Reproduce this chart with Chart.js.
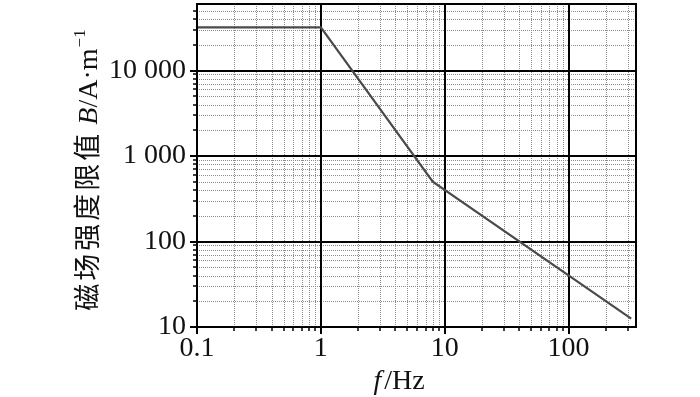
<!DOCTYPE html>
<html><head><meta charset="utf-8">
<script src="https://cdn.jsdelivr.net/npm/chart.js@4/dist/chart.umd.min.js"></script>
<style>html,body{margin:0;padding:0;background:#fff;}#wrap{width:700px;height:397px;position:relative;}</style>
</head><body><div id="wrap"><canvas id="c"></canvas></div>
<script>
// ---- data ----
const frequencies = [0.1, 1, 8, 320];          // Hz
const fieldLimits = [32000, 32000, 500, 12.5];  // A/m
const xLabelValues = [0.1, 1, 10, 100];
const xLabelTexts = ['0.1', '1', '10', '100'];
const yLabelValues = [10, 100, 1000, 10000];
const yLabelTexts = ['10', '100', '1 000', '10 000'];
const yTitleCJK = '磁场强度限值';
const yTitleVar = 'B';
const yTitleUnit = '/A·m';
const yTitleExp = '−1';
const xTitleVar = 'f';
const xTitleUnit = '/Hz';

const SERIF = '"Liberation Serif", "Times New Roman", serif';

function labelFor(values, texts, v) {
  const i = values.findIndex(t => Math.abs(t - v) / t < 1e-6);
  return i >= 0 ? texts[i] : '';
}
function isNice(v) {
  const e = Math.floor(Math.log10(v) + 1e-9);
  const m = v / Math.pow(10, e);
  return Math.abs(m - Math.round(m)) < 1e-6;
}
function isDecade(v) {
  const l = Math.log10(v);
  return Math.abs(l - Math.round(l)) < 1e-6;
}

const gridPlugin = {
  id: 'logGrid',
  beforeDatasetsDraw(chart) {
    const {ctx, chartArea: a, scales: {x, y}} = chart;
    const line = (x1, y1, x2, y2) => { ctx.beginPath(); ctx.moveTo(x1, y1); ctx.lineTo(x2, y2); ctx.stroke(); };
    ctx.save();
    const xs = x.ticks.map(t => t.value).filter(isNice);
    const ys = y.ticks.map(t => t.value).filter(isNice);
    // minor dotted grid
    ctx.setLineDash([1, 1]);
    ctx.lineWidth = 1;
    ctx.strokeStyle = '#8c8c8c';
    xs.filter(v => !isDecade(v)).forEach(v => {
      const p = Math.round(x.getPixelForValue(v)) + 0.5;
      if (p > a.left + 1 && p < a.right - 1) line(p, a.top, p, a.bottom);
    });
    ys.filter(v => !isDecade(v)).forEach(v => {
      const p = Math.round(y.getPixelForValue(v)) + 0.5;
      if (p > a.top + 1 && p < a.bottom - 1) line(a.left, p, a.right, p);
    });
    // major solid grid
    ctx.setLineDash([]);
    ctx.lineWidth = 2;
    ctx.strokeStyle = '#000';
    xs.filter(isDecade).forEach(v => {
      const p = Math.round(x.getPixelForValue(v));
      if (p > a.left + 1 && p < a.right - 1) line(p, a.top, p, a.bottom);
    });
    ys.filter(isDecade).forEach(v => {
      const p = Math.round(y.getPixelForValue(v));
      if (p > a.top + 1 && p < a.bottom - 1) line(a.left, p, a.right, p);
    });
    // outside tick marks
    xs.forEach(v => {
      const p = Math.round(x.getPixelForValue(v));
      if (p < a.left - 1 || p > a.right - 2) return;
      ctx.lineWidth = isDecade(v) ? 2 : 1.5;
      line(p, a.bottom, p, a.bottom + (isDecade(v) ? 7 : 4));
    });
    ys.forEach(v => {
      const p = Math.round(y.getPixelForValue(v));
      if (p < a.top + 2 || p > a.bottom + 1) return;
      ctx.lineWidth = isDecade(v) ? 2 : 1.5;
      line(a.left, p, a.left - (isDecade(v) ? 7 : 4), p);
    });
    ctx.restore();
  },
  afterDatasetsDraw(chart) {
    const {ctx, chartArea: a} = chart;
    ctx.save();
    ctx.lineWidth = 2;
    ctx.strokeStyle = '#000';
    ctx.strokeRect(a.left, a.top, a.right - a.left, a.bottom - a.top);
    ctx.restore();
  },
  afterDraw(chart) {
    const {ctx} = chart;
    ctx.save();
    ctx.fillStyle = '#111';
    // y title (rotated)
    const cjkFont = '27px "Noto Sans CJK SC", sans-serif';
    const varFont = 'italic 28px ' + SERIF;
    const unitFont = '28px ' + SERIF;
    const expFont = '17px ' + SERIF;
    const cjkSpace = 3;
    ctx.font = cjkFont;
    const cjkChars = Array.from(yTitleCJK);
    const cw = cjkChars.map(ch => ctx.measureText(ch).width);
    const w1 = cw.reduce((s, w) => s + w, 0) + cjkSpace * (cjkChars.length - 1);
    const gap = 9;
    ctx.font = varFont; const w2 = ctx.measureText(yTitleVar).width;
    ctx.font = unitFont; const w3 = ctx.measureText(yTitleUnit).width;
    ctx.font = expFont; const w4 = ctx.measureText(yTitleExp).width;
    const total = w1 + gap + w2 + w3 + w4 + 1;
    ctx.translate(87, 170);
    ctx.rotate(-Math.PI / 2);
    ctx.textBaseline = 'alphabetic';
    ctx.textAlign = 'left';
    let cx = -total / 2;
    ctx.font = cjkFont;
    cjkChars.forEach((ch, i) => { ctx.fillText(ch, cx, 10); cx += cw[i] + cjkSpace; });
    cx += gap - cjkSpace;
    ctx.font = varFont; ctx.fillText(yTitleVar, cx, 10); cx += w2;
    ctx.font = unitFont; ctx.fillText(yTitleUnit, cx, 10); cx += w3 + 1;
    ctx.font = expFont; ctx.fillText(yTitleExp, cx, -2);
    ctx.restore();
    // x title
    ctx.save();
    ctx.fillStyle = '#111';
    ctx.textBaseline = 'alphabetic';
    ctx.font = 'italic 28px ' + SERIF; const f1 = ctx.measureText(xTitleVar).width;
    ctx.font = '28px ' + SERIF; const f2 = ctx.measureText(xTitleUnit).width;
    let sx = 399 - (f1 + f2 + 3) / 2;
    ctx.font = 'italic 28px ' + SERIF; ctx.fillText(xTitleVar, sx, 389);
    ctx.font = '28px ' + SERIF; ctx.fillText(xTitleUnit, sx + f1 + 3, 389);
    ctx.restore();
  }
};

function zeroPad(s) { s.paddingTop = 0; s.paddingBottom = 0; s.paddingLeft = 0; s.paddingRight = 0; }

new Chart(document.getElementById('c'), {
  type: 'line',
  data: {
    datasets: [{
      data: frequencies.map((f, i) => ({x: f, y: fieldLimits[i]})),
      borderColor: '#4a4a4a',
      borderWidth: 2.2,
      pointRadius: 0,
      fill: false,
      tension: 0
    }]
  },
  options: {
    responsive: true,
    maintainAspectRatio: false,
    animation: false,
    layout: {padding: {top: 4, right: 64, left: 0, bottom: 0}},
    plugins: {legend: {display: false}, tooltip: {enabled: false}},
    scales: {
      x: {
        type: 'logarithmic',
        min: 0.1, max: 350,
        grid: {display: false, drawTicks: false},
        border: {display: false},
        ticks: {
          autoSkip: false, maxRotation: 0, padding: 8,
          color: '#111',
          font: {family: SERIF, size: 28, lineHeight: 1},
          callback: v => labelFor(xLabelValues, xLabelTexts, v)
        },
        afterFit: s => { s.height = 70; zeroPad(s); }
      },
      y: {
        type: 'logarithmic',
        min: 10, max: 60000,
        grid: {display: false, drawTicks: false},
        border: {display: false},
        ticks: {
          autoSkip: false, padding: 11,
          color: '#111',
          font: {family: SERIF, size: 28, lineHeight: 1},
          callback: v => labelFor(yLabelValues, yLabelTexts, v)
        },
        afterFit: s => { s.width = 197; zeroPad(s); }
      }
    }
  },
  plugins: [gridPlugin]
});
</script></body></html>
